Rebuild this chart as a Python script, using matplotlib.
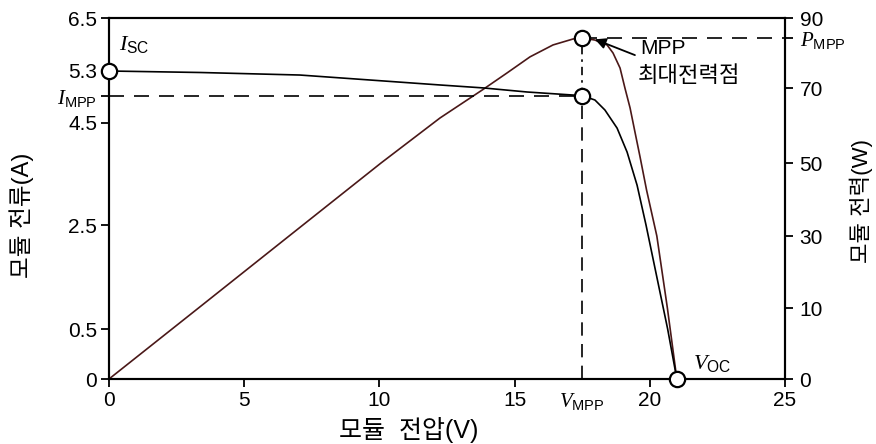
"""
Solar module I-V and P-V curve (MPP) — recreation of the textbook figure.
Left axis: module current (A), right axis: module power (W), both on the
uneven tick spacing of the original drawing.
"""

import matplotlib
matplotlib.use("Agg")
import matplotlib.pyplot as plt
import numpy as np

plt.rcParams["font.family"] = ["Liberation Sans", "Noto Sans CJK KR", "DejaVu Sans"]
plt.rcParams["mathtext.fontset"] = "custom"
plt.rcParams["mathtext.rm"] = "Liberation Sans"
plt.rcParams["mathtext.it"] = "Liberation Serif:italic"

# ---- data ----------------------------------------------------------------
V_MPP = 17.5
V_OC = 21.0
I_SC = 5.3
I_MPP = 4.92
P_MPP = 84.3

# I-V curve (V, A)
iv_volt = [0, 3.37, 7.06, 12.24, 13.83, 15.46, 17.16, 17.5,
           17.97, 18.34, 18.79, 19.16, 19.53, 19.86, 20.66, 21.0]
iv_curr = [5.3, 5.277, 5.238, 5.085, 5.04, 4.977, 4.93, 4.92,
           4.854, 4.70, 4.40, 3.93, 3.28, 2.5, 0.5, 0.0]

# P-V curve (V, W)
pv_volt = [0, 3.31, 6.66, 10.06, 12.24, 13.83, 14.72, 15.57, 16.42, 17.16, 17.5,
           17.97, 18.42, 18.64, 18.9, 19.08, 19.27, 19.45, 19.64, 19.88,
           20.26, 20.65, 21.0]
pv_power = [0, 10, 30, 50, 62.0, 69.6, 74.3, 78.9, 82.3, 84.0, 84.3,
            83.7, 82.3, 80.0, 75.7, 70.0, 64.7, 58.3, 51.6, 42.6,
            30, 10, 0]

x_ticks = [0, 5, 10, 15, V_MPP, 20, 25]
x_labels = ["0", "5", "10", "15", r"$V_{\mathrm{MPP}}$", "20", "25"]
i_ticks = [0, 0.5, 2.5, 4.5, I_MPP, 5.3, 6.5]
i_labels = ["0", "0.5", "2.5", "4.5", r"$I_{\mathrm{MPP}}$", "5.3", "6.5"]
p_ticks = [0, 10, 30, 50, 70, P_MPP, 90]
p_labels = ["0", "10", "30", "50", "70", r"$P_{\mathrm{MPP}}$", "90"]

# the drawing's value axes are not evenly spaced: knots (value -> pixel height)
I_KNOT_VALS = [0, 0.5, 2.5, 4.5, 5.3, 6.5]
I_KNOT_POS = [0, 50, 154, 256, 308, 361]
P_KNOT_VALS = [0, 10, 30, 50, 70, 90]
P_KNOT_POS = [0, 71, 143, 216, 291, 361]


def make_scale(vals, pos):
    vals = np.asarray(vals, float)
    pos = np.asarray(pos, float)

    def fwd(v):
        return np.interp(v, vals, pos)

    def inv(p):
        return np.interp(p, pos, vals)

    return fwd, inv


i_fwd, i_inv = make_scale(I_KNOT_VALS, I_KNOT_POS)
p_fwd, p_inv = make_scale(P_KNOT_VALS, P_KNOT_POS)

W, H = 876, 444
fig = plt.figure(figsize=(W / 100, H / 100), dpi=100)
ax = fig.add_axes([109 / W, 1 - 379 / H, 676 / W, 361 / H])
ax2 = ax.twinx()
ax.set_zorder(ax2.get_zorder() + 1)
ax.patch.set_visible(False)

ax.set_yscale("function", functions=(i_fwd, i_inv))
ax2.set_yscale("function", functions=(p_fwd, p_inv))
ax.set_xlim(0, 25)
ax.set_ylim(0, 6.5)
ax2.set_ylim(0, 90)

lw = 1.2
# curves
ax.plot(iv_volt, iv_curr, color="black", lw=lw, zorder=3,
        solid_joinstyle="round")
ax2.plot(pv_volt, pv_power, color="#4a1818", lw=lw, zorder=3,
         solid_joinstyle="round")

# guide lines
ax.plot([0, V_MPP], [I_MPP, I_MPP], color="black", lw=lw, ls=(0, (9, 6)), zorder=2)
ax.plot([V_MPP, V_MPP], [0, I_MPP], color="black", lw=lw, ls=(0, (8, 5)), zorder=2)
ax2.plot([V_MPP, 25], [P_MPP, P_MPP], color="black", lw=lw, ls=(0, (9, 6)), zorder=2)
# dash-dot between the two MPP markers (I_MPP expressed on the power axis)
p_at_impp = p_inv(i_fwd(I_MPP))
ax2.plot([V_MPP, V_MPP], [p_at_impp, P_MPP], color="black", lw=lw,
         ls=(0, (5, 3, 1.5, 3)), zorder=2)

# markers
mk = dict(marker="o", ms=11, mfc="white", mec="black", mew=1.6, ls="none",
          clip_on=False, zorder=6)
ax.plot([0], [I_SC], **mk)
ax.plot([V_MPP], [I_MPP], **mk)
ax.plot([V_OC], [0], **mk)
ax2.plot([V_MPP], [P_MPP], **mk)

# annotations
ax2.annotate("", xy=(17.97, 83.9), xytext=(19.45, 79.4),
             arrowprops=dict(arrowstyle="-|>", color="black", lw=1.3,
                             mutation_scale=16, shrinkA=0, shrinkB=0), zorder=7)
ax2.text(19.64, 81.4, "MPP", ha="left", va="center", fontsize=15)
ax2.text(19.56, 73.2, "최대전력점", ha="left", va="center", fontsize=16)
ax.text(0.37, 5.89, r"$I_{\mathrm{SC}}$", ha="left", va="center", fontsize=16)
ax.text(21.6, 0.16, r"$V_{\mathrm{OC}}$", ha="left", va="center", fontsize=16)

# ticks
ax.set_xticks(x_ticks, labels=x_labels)
ax.set_yticks(i_ticks, labels=i_labels)
ax2.set_yticks(p_ticks, labels=p_labels)
ax.yaxis.set_minor_locator(matplotlib.ticker.NullLocator())
ax2.yaxis.set_minor_locator(matplotlib.ticker.NullLocator())
ax.xaxis.get_major_ticks()[4].tick1line.set_visible(False)

ax.tick_params(axis="both", direction="out", length=5.5, width=1.3,
               labelsize=15, pad=3)
ax2.tick_params(axis="y", direction="out", length=5.5, width=1.3,
                labelsize=15, pad=5)
for a in (ax, ax2):
    for s in a.spines.values():
        s.set_linewidth(1.5)

# axis titles
fig.text(22 / W, 1 - 215 / H, "모듈 전류(A)", rotation=90, ha="center",
         va="center", fontsize=17)
fig.text(861 / W, 1 - 201 / H, "모듈 전력(W)", rotation=90, ha="center",
         va="center", fontsize=16)
fig.text(409 / W, 1 - 430 / H, "모듈  전압(V)", ha="center", va="center",
         fontsize=18)

fig.savefig("out.png", dpi=100)
